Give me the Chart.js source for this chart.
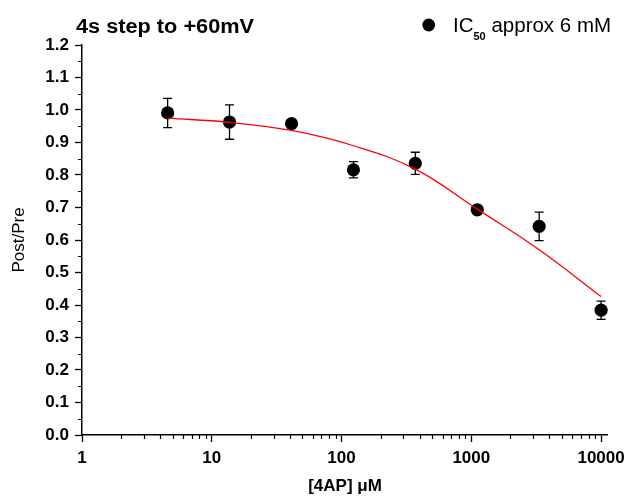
<!DOCTYPE html>
<html>
<head>
<meta charset="utf-8">
<script src="https://cdn.jsdelivr.net/npm/chart.js@4/dist/chart.umd.min.js"></script>
<style>
html,body{margin:0;padding:0;background:#fff;}
#c{display:block;}
</style>
</head>
<body>
<canvas id="c" width="631" height="497"></canvas>
<script>
// ---- data ----
const concentrations = [4.57, 13.7, 41.2, 123.5, 370, 1111, 3333, 10000];   // [4AP] µM
const postPre        = [0.991, 0.963, 0.958, 0.816, 0.836, 0.693, 0.642, 0.384];
const errors         = [0.045, 0.053, 0.008, 0.025, 0.034, 0.008, 0.044, 0.028];
const fitX           = [4.57, 13.7, 41.2, 123.5, 370, 1111, 3333, 10000];
const fitY           = [0.975, 0.962, 0.937, 0.890, 0.818, 0.695, 0.570, 0.426];
const xTickValues    = [1, 10, 100, 1000, 10000];
const yTickValues    = [0, 0.1, 0.2, 0.3, 0.4, 0.5, 0.6, 0.7, 0.8, 0.9, 1.0, 1.1, 1.2];
const xMinorValues   = [2,3,4,5,6,7,8,9,20,30,40,50,60,70,80,90,200,300,400,500,600,700,800,900,2000,3000,4000,5000,6000,7000,8000,9000];
const yMinorValues   = [0.05,0.15,0.25,0.35,0.45,0.55,0.65,0.75,0.85,0.95,1.05,1.15];
const chartTitle     = '4s step to +60mV';
const legendMain     = 'IC';
const legendSub      = '50';
const legendRest     = ' approx 6 mM';
const xAxisTitle     = '[4AP] \u03BCM';
const yAxisTitle     = 'Post/Pre';

const FONT = 'Arial, "Liberation Sans", Helvetica, sans-serif';

const extras = {
  id: 'extras',
  beforeDatasetsDraw(chart) {
    const ctx = chart.ctx, xs = chart.scales.x, ys = chart.scales.y;
    ctx.save();
    ctx.strokeStyle = '#000';
    ctx.lineWidth = 1.3;
    concentrations.forEach((c, i) => {
      const px = xs.getPixelForValue(c);
      const pt = ys.getPixelForValue(postPre[i] + errors[i]);
      const pb = ys.getPixelForValue(postPre[i] - errors[i]);
      ctx.beginPath();
      ctx.moveTo(px, pt); ctx.lineTo(px, pb);
      ctx.moveTo(px - 4.5, pt); ctx.lineTo(px + 4.5, pt);
      ctx.moveTo(px - 4.5, pb); ctx.lineTo(px + 4.5, pb);
      ctx.stroke();
    });
    ctx.restore();
  },
  afterDraw(chart) {
    const ctx = chart.ctx, xs = chart.scales.x, ys = chart.scales.y;
    const area = chart.chartArea;
    ctx.save();
    // minor ticks
    ctx.strokeStyle = '#000';
    ctx.lineWidth = 1.2;
    ctx.beginPath();
    xMinorValues.forEach(v => {
      const px = Math.round(xs.getPixelForValue(v)) + 0.5;
      ctx.moveTo(px, area.bottom); ctx.lineTo(px, area.bottom + 4);
    });
    yMinorValues.forEach(v => {
      const py = Math.round(ys.getPixelForValue(v)) + 0.5;
      ctx.moveTo(area.left, py); ctx.lineTo(area.left - 4, py);
    });
    ctx.stroke();

    // chart title
    ctx.fillStyle = '#000';
    ctx.textBaseline = 'alphabetic';
    ctx.textAlign = 'left';
    ctx.font = 'bold 20px ' + FONT;
    const tw = ctx.measureText(chartTitle).width;
    ctx.save();
    ctx.translate(76, 32.5);
    ctx.scale(178 / tw, 1);
    ctx.fillText(chartTitle, 0, 0);
    ctx.restore();

    // legend
    ctx.beginPath();
    ctx.arc(428.7, 25, 6.4, 0, Math.PI * 2);
    ctx.fill();
    let lx = 453;
    ctx.font = '20.5px ' + FONT;
    ctx.fillText(legendMain, lx, 32);
    lx += ctx.measureText(legendMain).width;
    ctx.font = 'bold 11px ' + FONT;
    ctx.fillText(legendSub, lx, 40);
    lx += ctx.measureText(legendSub).width;
    ctx.font = '20.5px ' + FONT;
    ctx.fillText(legendRest, lx, 32);
    ctx.restore();
  }
};

new Chart(document.getElementById('c'), {
  type: 'line',
  data: {
    datasets: [
      {
        label: 'fit',
        data: fitX.map((x, i) => ({x: x, y: fitY[i]})),
        borderColor: '#ff0000',
        borderWidth: 1.3,
        pointRadius: 0,
        fill: false,
        tension: 0.4,
        order: 0
      },
      {
        label: legendMain + legendSub + legendRest,
        data: concentrations.map((x, i) => ({x: x, y: postPre[i]})),
        showLine: false,
        pointRadius: 6.6,
        pointHoverRadius: 6.6,
        pointBackgroundColor: '#000',
        pointBorderWidth: 0,
        borderColor: '#000',
        order: 1
      }
    ]
  },
  options: {
    responsive: false,
    devicePixelRatio: 1,
    animation: false,
    layout: {padding: {top: 45, right: 21, bottom: 0, left: 0}},
    plugins: {
      legend: {display: false},
      title: {display: false},
      tooltip: {enabled: false}
    },
    scales: {
      x: {
        type: 'logarithmic',
        min: 1,
        max: 11300,
        afterBuildTicks: s => { s.ticks = xTickValues.map(v => ({value: v})); },
        afterFit: s => { s.height = 62; },
        ticks: {
          autoSkip: false,
          maxRotation: 0,
          padding: 6,
          color: '#000',
          font: {family: FONT, size: 17, weight: 'bold'},
          callback: v => String(v)
        },
        grid: {display: true, drawOnChartArea: false, drawTicks: true, tickLength: 7, tickWidth: 1.3, tickColor: '#000', color: '#000'},
        border: {display: true, color: '#000', width: 1.5},
        title: {display: true, text: xAxisTitle, color: '#000', font: {family: FONT, size: 17, weight: 'bold', lineHeight: 1}, padding: {top: 0, bottom: 2}}
      },
      y: {
        type: 'linear',
        min: 0,
        max: 1.2,
        afterBuildTicks: s => { s.ticks = yTickValues.map(v => ({value: v})); },
        afterFit: s => { s.width = 82; },
        ticks: {
          autoSkip: false,
          padding: 6,
          color: '#000',
          font: {family: FONT, size: 17, weight: 'bold'},
          callback: v => Number(v).toFixed(1)
        },
        grid: {display: true, drawOnChartArea: false, drawTicks: true, tickLength: 7, tickWidth: 1.3, tickColor: '#000', color: '#000'},
        border: {display: true, color: '#000', width: 1.5},
        title: {display: true, text: yAxisTitle, color: '#000', font: {family: FONT, size: 17, weight: 'normal', lineHeight: 1}, padding: {top: 10.5, bottom: 0}}
      }
    }
  },
  plugins: [extras]
});
</script>
</body>
</html>
